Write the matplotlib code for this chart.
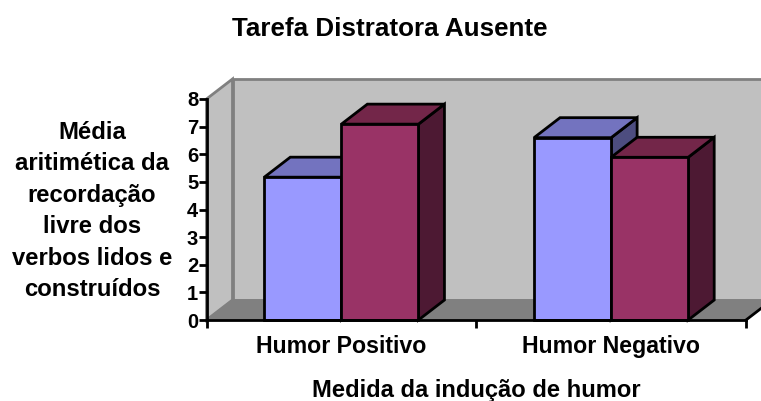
import numpy as np
import matplotlib
matplotlib.use('Agg')
import matplotlib.pyplot as plt
from matplotlib.patches import Polygon

plt.rcParams['font.family'] = ['Liberation Sans', 'DejaVu Sans']
plt.rcParams['font.weight'] = 'bold'

categories = ['Humor Positivo', 'Humor Negativo']
serie_a = [5.17, 6.6]
serie_b = [7.09, 5.89]
y_ticks = [0, 1, 2, 3, 4, 5, 6, 7, 8]

W, H = 761, 401
fig = plt.figure(figsize=(W / 100, H / 100), dpi=100)
# axes box in pixels: x 206.5-746, y 99-320
ax = fig.add_axes([206.5 / W, 1 - 320 / H, (746 - 206.5) / W, (320 - 99) / H])
ax.set_xlim(0, 2)
ax.set_ylim(0, 8)
ax.patch.set_visible(False)
for s in ax.spines.values():
    s.set_visible(False)

# depth of the fake 3D box, in data units
dx = 26 / 269.75
dy = 20 / 27.625
x_end = 2 + 2 * dx  # runs off the figure on the right


def poly(pts, fc, ec='black', lw=2, z=3):
    ax.add_patch(Polygon(pts, closed=True, facecolor=fc, edgecolor=ec, linewidth=lw,
                         joinstyle='miter', zorder=z, clip_on=False))


# walls and floor
poly([(dx, dy), (x_end, dy), (x_end, 8 + dy), (dx, 8 + dy)], '#C0C0C0', '#808080', 2, 1)
poly([(0, 0), (dx, dy), (dx, 8 + dy), (0, 8)], '#C0C0C0', '#808080', 2, 1)
poly([(0, 0), (2, 0), (2 + dx, dy), (dx, dy)], '#808080', '#808080', 1, 1.5)
ax.plot([2, 2 + dx], [0, dy], color='black', lw=2, clip_on=False, zorder=2)

bar_w = 1 / 3.5
front_colors = ['#9999FF', '#993366']
top_colors = ['#7373BF', '#732649']
side_colors = ['#4D4D80', '#4D1933']

z = 3
for i in range(len(categories)):
    for j, vals in enumerate([serie_a, serie_b]):
        v = vals[i]
        x0 = i + 0.75 * bar_w + j * bar_w
        x1 = x0 + bar_w
        poly([(x1, 0), (x1 + dx, dy), (x1 + dx, v + dy), (x1, v)], side_colors[j], z=z)
        poly([(x0, v), (x1, v), (x1 + dx, v + dy), (x0 + dx, v + dy)], top_colors[j], z=z)
        ax.bar(x0, v, bar_w, align='edge', color=front_colors[j], edgecolor='black',
               linewidth=2, zorder=z + 0.5, clip_on=False)
        z += 1

ax.set_xticks([0, 1, 2])
ax.set_xticklabels(['', '', ''])
ax.set_yticks(y_ticks)
ax.tick_params(axis='y', length=6, width=2, labelsize=14.5, pad=0)
ax.tick_params(axis='x', length=6, width=2)
ax.plot([0, 0], [0, 8], color='black', lw=2, clip_on=False, zorder=20)
ax.plot([0, 2], [0, 0], color='black', lw=2, clip_on=False, zorder=20)

ax.text(0.5, -0.96, categories[0], ha='center', va='center', fontsize=16.7)
ax.text(1.5, -0.96, categories[1], ha='center', va='center', fontsize=16.7)

fig.text(390 / W, 1 - 29.5 / H, 'Tarefa Distratora Ausente', ha='center', va='center', fontsize=18.7)
fig.text(476 / W, 1 - 391 / H, 'Medida da indução de humor', ha='center', va='center', fontsize=17.1)
fig.text(92 / W, 1 - 211 / H, 'Média\naritimética da\nrecordação\nlivre dos\nverbos lidos e\nconstruídos',
         ha='center', va='center', fontsize=17.2, linespacing=1.47)

fig.savefig('out.png', dpi=100)
